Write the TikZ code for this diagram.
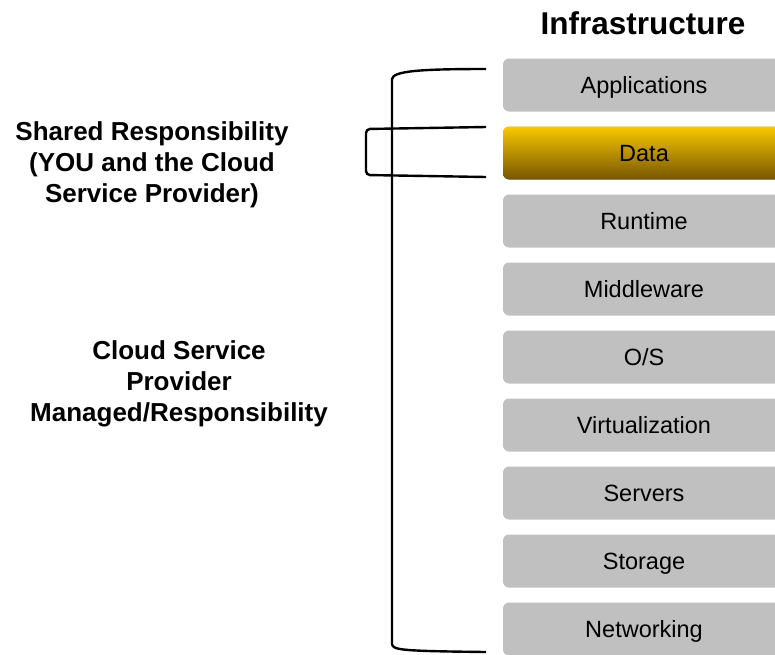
\documentclass[tikz,border=0pt]{standalone}
\usepackage{fontspec}
\setmainfont{Liberation Sans}
\definecolor{layergray}{RGB}{192,192,192}
\definecolor{datatop}{RGB}{250,200,0}
\definecolor{datamid}{RGB}{232,170,0}
\definecolor{databot}{RGB}{118,86,0}
\begin{document}
\begin{tikzpicture}[x=1pt, y=-1pt,
  layer/.style={fill=layergray, rounded corners=6pt, minimum width=282pt, minimum height=53pt,
    inner sep=0pt, text height=17pt, text depth=0pt, font=\fontsize{23.5}{28}\selectfont},
  label/.style={align=center, font=\fontsize{26}{31}\selectfont\bfseries},
  bracket/.style={line width=2.4pt, black}]

\useasboundingbox (0,0) rectangle (775,654);

\node[font=\fontsize{31.5}{36}\selectfont\bfseries] (title) at (643,23) {Infrastructure};

\node[layer] (a1) at (644,85) {Applications};
\node[layer, top color=datatop, middle color=datamid, bottom color=databot] (a2) at (644,153) {Data};
\node[layer] (a3) at (644,221) {Runtime};
\node[layer] (a4) at (644,289) {Middleware};
\node[layer] (a5) at (644,357) {O/S};
\node[layer] (a6) at (644,425) {Virtualization};
\node[layer] (a7) at (644,493) {Servers};
\node[layer] (a8) at (644,561) {Storage};
\node[layer] (a9) at (644,629) {Networking};

\node[label] (b) at (152,164.5) {Shared Responsibility\\(YOU and the Cloud\\Service Provider)};
\node[label] (c) at (179,383.5) {Cloud Service\\Provider\\Managed/Responsibility};

\coordinate (otop) at (486,69);
\coordinate (obot) at (486,652);
\coordinate (itop) at (486,127);
\coordinate (ibot) at (486,177);

\draw[bracket] (otop) .. controls (420,69) and (393,71) .. (392,79) -- (392,644)
  .. controls (393,650) and (400,651) .. (obot);
\draw[bracket, rounded corners=4pt] (itop) -- (366,129) -- (366,175) -- (ibot);

\end{tikzpicture}
\end{document}
